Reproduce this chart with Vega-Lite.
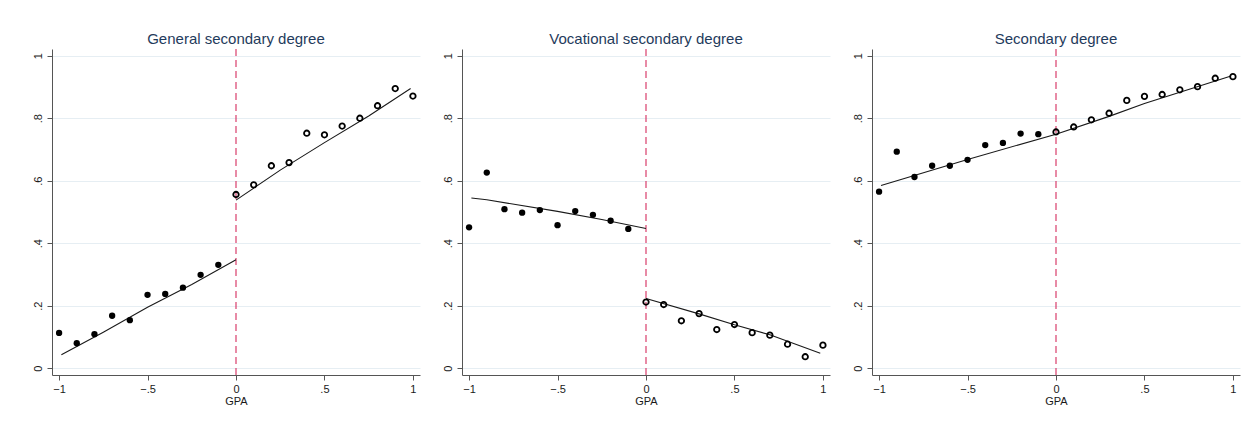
{
  "$schema": "https://vega.github.io/schema/vega-lite/v6.json",
  "background": "white",
  "padding": {"left": 32, "top": 32, "right": 5, "bottom": 5},
  "spacing": 22,
  "datasets": {
    "cutoff": [{"gpa": 0}],
    "bins": [
      {"panel": "general", "side": "below", "gpa": -1.0, "share": 0.113},
      {"panel": "general", "side": "below", "gpa": -0.9, "share": 0.080},
      {"panel": "general", "side": "below", "gpa": -0.8, "share": 0.109},
      {"panel": "general", "side": "below", "gpa": -0.7, "share": 0.168},
      {"panel": "general", "side": "below", "gpa": -0.6, "share": 0.154},
      {"panel": "general", "side": "below", "gpa": -0.5, "share": 0.235},
      {"panel": "general", "side": "below", "gpa": -0.4, "share": 0.238},
      {"panel": "general", "side": "below", "gpa": -0.3, "share": 0.258},
      {"panel": "general", "side": "below", "gpa": -0.2, "share": 0.299},
      {"panel": "general", "side": "below", "gpa": -0.1, "share": 0.331},
      {"panel": "general", "side": "above", "gpa": 0.0, "share": 0.556},
      {"panel": "general", "side": "above", "gpa": 0.1, "share": 0.587},
      {"panel": "general", "side": "above", "gpa": 0.2, "share": 0.648},
      {"panel": "general", "side": "above", "gpa": 0.3, "share": 0.658},
      {"panel": "general", "side": "above", "gpa": 0.4, "share": 0.752},
      {"panel": "general", "side": "above", "gpa": 0.5, "share": 0.747},
      {"panel": "general", "side": "above", "gpa": 0.6, "share": 0.775},
      {"panel": "general", "side": "above", "gpa": 0.7, "share": 0.800},
      {"panel": "general", "side": "above", "gpa": 0.8, "share": 0.840},
      {"panel": "general", "side": "above", "gpa": 0.9, "share": 0.895},
      {"panel": "general", "side": "above", "gpa": 1.0, "share": 0.871},
      {"panel": "vocational", "side": "below", "gpa": -1.0, "share": 0.451},
      {"panel": "vocational", "side": "below", "gpa": -0.9, "share": 0.626},
      {"panel": "vocational", "side": "below", "gpa": -0.8, "share": 0.509},
      {"panel": "vocational", "side": "below", "gpa": -0.7, "share": 0.498},
      {"panel": "vocational", "side": "below", "gpa": -0.6, "share": 0.506},
      {"panel": "vocational", "side": "below", "gpa": -0.5, "share": 0.458},
      {"panel": "vocational", "side": "below", "gpa": -0.4, "share": 0.503},
      {"panel": "vocational", "side": "below", "gpa": -0.3, "share": 0.491},
      {"panel": "vocational", "side": "below", "gpa": -0.2, "share": 0.472},
      {"panel": "vocational", "side": "below", "gpa": -0.1, "share": 0.446},
      {"panel": "vocational", "side": "above", "gpa": 0.0, "share": 0.212},
      {"panel": "vocational", "side": "above", "gpa": 0.1, "share": 0.204},
      {"panel": "vocational", "side": "above", "gpa": 0.2, "share": 0.152},
      {"panel": "vocational", "side": "above", "gpa": 0.3, "share": 0.175},
      {"panel": "vocational", "side": "above", "gpa": 0.4, "share": 0.124},
      {"panel": "vocational", "side": "above", "gpa": 0.5, "share": 0.140},
      {"panel": "vocational", "side": "above", "gpa": 0.6, "share": 0.114},
      {"panel": "vocational", "side": "above", "gpa": 0.7, "share": 0.106},
      {"panel": "vocational", "side": "above", "gpa": 0.8, "share": 0.077},
      {"panel": "vocational", "side": "above", "gpa": 0.9, "share": 0.037},
      {"panel": "vocational", "side": "above", "gpa": 1.0, "share": 0.074},
      {"panel": "secondary", "side": "below", "gpa": -1.0, "share": 0.565},
      {"panel": "secondary", "side": "below", "gpa": -0.9, "share": 0.693},
      {"panel": "secondary", "side": "below", "gpa": -0.8, "share": 0.612},
      {"panel": "secondary", "side": "below", "gpa": -0.7, "share": 0.648},
      {"panel": "secondary", "side": "below", "gpa": -0.6, "share": 0.648},
      {"panel": "secondary", "side": "below", "gpa": -0.5, "share": 0.667},
      {"panel": "secondary", "side": "below", "gpa": -0.4, "share": 0.714},
      {"panel": "secondary", "side": "below", "gpa": -0.3, "share": 0.721},
      {"panel": "secondary", "side": "below", "gpa": -0.2, "share": 0.751},
      {"panel": "secondary", "side": "below", "gpa": -0.1, "share": 0.749},
      {"panel": "secondary", "side": "above", "gpa": 0.0, "share": 0.756},
      {"panel": "secondary", "side": "above", "gpa": 0.1, "share": 0.772},
      {"panel": "secondary", "side": "above", "gpa": 0.2, "share": 0.795},
      {"panel": "secondary", "side": "above", "gpa": 0.3, "share": 0.816},
      {"panel": "secondary", "side": "above", "gpa": 0.4, "share": 0.857},
      {"panel": "secondary", "side": "above", "gpa": 0.5, "share": 0.870},
      {"panel": "secondary", "side": "above", "gpa": 0.6, "share": 0.876},
      {"panel": "secondary", "side": "above", "gpa": 0.7, "share": 0.891},
      {"panel": "secondary", "side": "above", "gpa": 0.8, "share": 0.901},
      {"panel": "secondary", "side": "above", "gpa": 0.9, "share": 0.928},
      {"panel": "secondary", "side": "above", "gpa": 1.0, "share": 0.933}
    ],
    "fits": [
      {"panel": "general", "side": "below", "gpa": -0.987, "share": 0.043},
      {"panel": "general", "side": "below", "gpa": -0.75, "share": 0.115},
      {"panel": "general", "side": "below", "gpa": -0.5, "share": 0.195},
      {"panel": "general", "side": "below", "gpa": -0.25, "share": 0.268},
      {"panel": "general", "side": "below", "gpa": 0.0, "share": 0.347},
      {"panel": "general", "side": "above", "gpa": 0.0, "share": 0.538},
      {"panel": "general", "side": "above", "gpa": 0.25, "share": 0.634},
      {"panel": "general", "side": "above", "gpa": 0.5, "share": 0.722},
      {"panel": "general", "side": "above", "gpa": 0.75, "share": 0.807},
      {"panel": "general", "side": "above", "gpa": 0.987, "share": 0.895},
      {"panel": "vocational", "side": "below", "gpa": -0.987, "share": 0.545},
      {"panel": "vocational", "side": "below", "gpa": -0.9, "share": 0.539},
      {"panel": "vocational", "side": "below", "gpa": -0.5, "share": 0.502},
      {"panel": "vocational", "side": "below", "gpa": -0.25, "share": 0.476},
      {"panel": "vocational", "side": "below", "gpa": 0.0, "share": 0.447},
      {"panel": "vocational", "side": "above", "gpa": 0.0, "share": 0.223},
      {"panel": "vocational", "side": "above", "gpa": 0.3, "share": 0.174},
      {"panel": "vocational", "side": "above", "gpa": 0.5, "share": 0.139},
      {"panel": "vocational", "side": "above", "gpa": 0.7, "share": 0.107},
      {"panel": "vocational", "side": "above", "gpa": 0.985, "share": 0.048},
      {"panel": "secondary", "side": "below", "gpa": -0.989, "share": 0.585},
      {"panel": "secondary", "side": "below", "gpa": -0.5, "share": 0.668},
      {"panel": "secondary", "side": "below", "gpa": 0.0, "share": 0.749},
      {"panel": "secondary", "side": "above", "gpa": 0.0, "share": 0.749},
      {"panel": "secondary", "side": "above", "gpa": 0.3, "share": 0.806},
      {"panel": "secondary", "side": "above", "gpa": 0.5, "share": 0.847},
      {"panel": "secondary", "side": "above", "gpa": 0.985, "share": 0.934}
    ]
  },
  "config": {
    "view": {"stroke": null},
    "font": "Liberation Sans",
    "title": {"fontSize": 15, "fontWeight": "normal", "color": "#1f3b5c", "offset": 1, "font": "Liberation Sans"},
    "axis": {
      "domainColor": "#555555",
      "tickColor": "#555555",
      "tickSize": 5,
      "labelColor": "#1a1a1a",
      "labelFontSize": 11,
      "labelFont": "Liberation Sans",
      "titleFont": "Liberation Sans",
      "titleFontSize": 11,
      "titleFontWeight": "normal",
      "titleColor": "#1a1a1a"
    },
    "axisX": {"grid": false, "labelPadding": 3, "titlePadding": 1},
    "axisY": {"grid": true, "gridColor": "#e6eef3", "labelAngle": -90, "labelAlign": "center", "labelBaseline": "bottom", "labelPadding": 4}
  },
  "hconcat": [
    {
      "title": "General secondary degree",
      "width": 368,
      "height": 326,
      "layer": [
        {
          "data": {"name": "cutoff"},
          "mark": {"type": "rule", "color": "#d62c5e", "strokeDash": [7, 4], "strokeWidth": 1.1},
          "encoding": {
            "x": {"field": "gpa", "type": "quantitative", "title": "GPA",
              "scale": {"domain": [-1.04, 1.04], "nice": false, "zero": false},
              "axis": {"values": [-1, -0.5, 0, 0.5, 1], "labelExpr": "replace(format(datum.value, '~g'), '0.', '.')"}}
          }
        },
        {
          "data": {"name": "fits"},
          "transform": [{"filter": "datum.panel === 'general'"}],
          "mark": {"type": "line", "color": "#1a1a1a", "strokeWidth": 1.1},
          "encoding": {
            "x": {"field": "gpa", "type": "quantitative", "title": "GPA"},
            "y": {"field": "share", "type": "quantitative", "title": null,
              "scale": {"domain": [-0.0215, 1.0215], "nice": false, "zero": false},
              "axis": {"values": [0, 0.2, 0.4, 0.6, 0.8, 1], "labelExpr": "replace(format(datum.value, '~g'), '0.', '.')"}},
            "detail": {"field": "side"}
          }
        },
        {
          "data": {"name": "bins"},
          "transform": [{"filter": "datum.panel === 'general' && datum.side === 'below'"}],
          "mark": {"type": "point", "filled": true, "color": "black", "size": 40, "opacity": 1},
          "encoding": {
            "x": {"field": "gpa", "type": "quantitative", "title": "GPA"},
            "y": {"field": "share", "type": "quantitative", "title": null}
          }
        },
        {
          "data": {"name": "bins"},
          "transform": [{"filter": "datum.panel === 'general' && datum.side === 'above'"}],
          "mark": {"type": "point", "filled": false, "color": "black", "size": 30, "strokeWidth": 1.8, "opacity": 1},
          "encoding": {
            "x": {"field": "gpa", "type": "quantitative", "title": "GPA"},
            "y": {"field": "share", "type": "quantitative", "title": null}
          }
        }
      ]
    },
    {
      "title": "Vocational secondary degree",
      "width": 368,
      "height": 326,
      "layer": [
        {
          "data": {"name": "cutoff"},
          "mark": {"type": "rule", "color": "#d62c5e", "strokeDash": [7, 4], "strokeWidth": 1.1},
          "encoding": {
            "x": {"field": "gpa", "type": "quantitative", "title": "GPA",
              "scale": {"domain": [-1.04, 1.04], "nice": false, "zero": false},
              "axis": {"values": [-1, -0.5, 0, 0.5, 1], "labelExpr": "replace(format(datum.value, '~g'), '0.', '.')"}}
          }
        },
        {
          "data": {"name": "fits"},
          "transform": [{"filter": "datum.panel === 'vocational'"}],
          "mark": {"type": "line", "color": "#1a1a1a", "strokeWidth": 1.1},
          "encoding": {
            "x": {"field": "gpa", "type": "quantitative", "title": "GPA"},
            "y": {"field": "share", "type": "quantitative", "title": null,
              "scale": {"domain": [-0.0215, 1.0215], "nice": false, "zero": false},
              "axis": {"values": [0, 0.2, 0.4, 0.6, 0.8, 1], "labelExpr": "replace(format(datum.value, '~g'), '0.', '.')"}},
            "detail": {"field": "side"}
          }
        },
        {
          "data": {"name": "bins"},
          "transform": [{"filter": "datum.panel === 'vocational' && datum.side === 'below'"}],
          "mark": {"type": "point", "filled": true, "color": "black", "size": 40, "opacity": 1},
          "encoding": {
            "x": {"field": "gpa", "type": "quantitative", "title": "GPA"},
            "y": {"field": "share", "type": "quantitative", "title": null}
          }
        },
        {
          "data": {"name": "bins"},
          "transform": [{"filter": "datum.panel === 'vocational' && datum.side === 'above'"}],
          "mark": {"type": "point", "filled": false, "color": "black", "size": 30, "strokeWidth": 1.8, "opacity": 1},
          "encoding": {
            "x": {"field": "gpa", "type": "quantitative", "title": "GPA"},
            "y": {"field": "share", "type": "quantitative", "title": null}
          }
        }
      ]
    },
    {
      "title": "Secondary degree",
      "width": 368,
      "height": 326,
      "layer": [
        {
          "data": {"name": "cutoff"},
          "mark": {"type": "rule", "color": "#d62c5e", "strokeDash": [7, 4], "strokeWidth": 1.1},
          "encoding": {
            "x": {"field": "gpa", "type": "quantitative", "title": "GPA",
              "scale": {"domain": [-1.04, 1.04], "nice": false, "zero": false},
              "axis": {"values": [-1, -0.5, 0, 0.5, 1], "labelExpr": "replace(format(datum.value, '~g'), '0.', '.')"}}
          }
        },
        {
          "data": {"name": "fits"},
          "transform": [{"filter": "datum.panel === 'secondary'"}],
          "mark": {"type": "line", "color": "#1a1a1a", "strokeWidth": 1.1},
          "encoding": {
            "x": {"field": "gpa", "type": "quantitative", "title": "GPA"},
            "y": {"field": "share", "type": "quantitative", "title": null,
              "scale": {"domain": [-0.0215, 1.0215], "nice": false, "zero": false},
              "axis": {"values": [0, 0.2, 0.4, 0.6, 0.8, 1], "labelExpr": "replace(format(datum.value, '~g'), '0.', '.')"}},
            "detail": {"field": "side"}
          }
        },
        {
          "data": {"name": "bins"},
          "transform": [{"filter": "datum.panel === 'secondary' && datum.side === 'below'"}],
          "mark": {"type": "point", "filled": true, "color": "black", "size": 40, "opacity": 1},
          "encoding": {
            "x": {"field": "gpa", "type": "quantitative", "title": "GPA"},
            "y": {"field": "share", "type": "quantitative", "title": null}
          }
        },
        {
          "data": {"name": "bins"},
          "transform": [{"filter": "datum.panel === 'secondary' && datum.side === 'above'"}],
          "mark": {"type": "point", "filled": false, "color": "black", "size": 30, "strokeWidth": 1.8, "opacity": 1},
          "encoding": {
            "x": {"field": "gpa", "type": "quantitative", "title": "GPA"},
            "y": {"field": "share", "type": "quantitative", "title": null}
          }
        }
      ]
    }
  ]
}
